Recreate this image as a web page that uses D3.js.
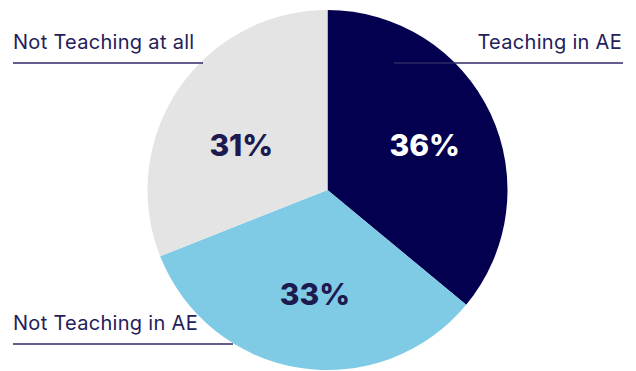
<!DOCTYPE html>
<html>
<head>
<meta charset="utf-8">
<script src="https://cdn.jsdelivr.net/npm/d3@7"></script>
<style>
  html, body { margin: 0; padding: 0; background: #fff; }
  svg { display: block; }
</style>
</head>
<body>
<div id="chart"></div>
<script>
'use strict';

// data
var categories = ["Teaching in AE", "Not Teaching in AE", "Not Teaching at all"];
var values = [36, 33, 31];
var sliceColors = ["#03004f", "#7fcbe6", "#e4e4e4"];
var pctColors = ["#ffffff", "#1d1a50", "#1d1a50"];

var width = 636, height = 371;
var cx = 327.5, cy = 190, radius = 180;

var svg = d3.select("#chart").append("svg")
  .attr("width", width)
  .attr("height", height);

var pie = d3.pie().sort(null).value(function(d) { return d; });
var arcs = pie(values);

var arc = d3.arc().innerRadius(0).outerRadius(radius);
var labelArc = d3.arc().innerRadius(103).outerRadius(103);
// small hand nudges so the % labels sit where the original has them
var pctNudge = [[4, -1.5], [3.5, 1.5], [-1, 12.5]];

var g = svg.append("g").attr("transform", "translate(" + cx + "," + cy + ")");

g.selectAll("path.slice")
  .data(arcs)
  .enter()
  .append("path")
  .attr("class", "slice")
  .attr("d", arc)
  .attr("fill", function(d, i) { return sliceColors[i]; });

// percentage labels
g.selectAll("text.pct")
  .data(arcs)
  .enter()
  .append("text")
  .attr("class", "pct")
  .attr("transform", function(d, i) {
    var c = labelArc.centroid(d);
    return "translate(" + (c[0] + pctNudge[i][0]) + "," + (c[1] + pctNudge[i][1] + 11.5) + ")";
  })
  .attr("text-anchor", "middle")
  .style("font-family", "Inter, 'Noto Sans', sans-serif")
  .style("font-weight", "800")
  .style("font-size", "30px")
  .style("fill", function(d, i) { return pctColors[i]; })
  .text(function(d) { return d.data + "%"; });

// category labels with underline
var labelSpots = [
  {x1: 394, x2: 623, y: 63, anchor: "end"},
  {x1: 13, x2: 233, y: 344, anchor: "start"},
  {x1: 13, x2: 203, y: 63, anchor: "start"}
];

var lab = svg.selectAll("g.lab")
  .data(categories)
  .enter()
  .append("g")
  .attr("class", "lab");

lab.append("line")
  .attr("x1", function(d, i) { return labelSpots[i].x1; })
  .attr("x2", function(d, i) { return labelSpots[i].x2; })
  .attr("y1", function(d, i) { return labelSpots[i].y; })
  .attr("y2", function(d, i) { return labelSpots[i].y; })
  .attr("stroke", "#2e2a66")
  .attr("stroke-width", 1.3);

lab.append("text")
  .attr("x", function(d, i) { return labelSpots[i].anchor === "end" ? labelSpots[i].x2 - 1 : labelSpots[i].x1; })
  .attr("y", function(d, i) { return labelSpots[i].y - 14; })
  .attr("text-anchor", function(d, i) { return labelSpots[i].anchor; })
  .style("font-family", "Inter, 'Noto Sans', sans-serif")
  .style("font-size", "20px")
  .style("letter-spacing", "0.3px")
  .style("fill", "#24205a")
  .text(function(d) { return d; });
</script>
</body>
</html>
